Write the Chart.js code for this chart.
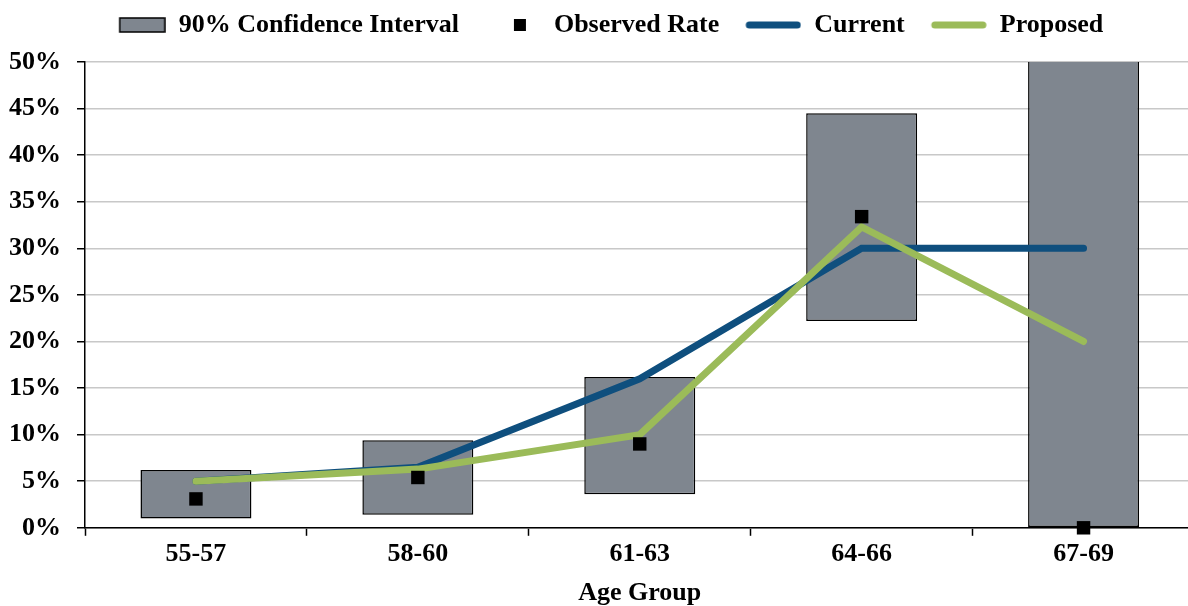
<!DOCTYPE html>
<html>
<head>
<meta charset="utf-8">
<script src="https://cdn.jsdelivr.net/npm/chart.js@4/dist/chart.umd.min.js"></script>
<style>
  html, body { margin: 0; padding: 0; background: #fff; overflow: hidden; }
  /* a área do gráfico passa um pouco da borda direita, como no original */
  #wrap { width: 1221px; height: 606px; margin-left: -17px; }
</style>
</head>
<body>
<div id="wrap"><canvas id="chart"></canvas></div>
<script>
// dados
const ageGroups = ['55-57', '58-60', '61-63', '64-66', '67-69'];
const ciLow = [1.0, 1.4, 3.6, 22.2, 0.0];
const ciHigh = [6.2, 9.4, 16.2, 44.5, 50.3];
const observedRate = [3.1, 5.4, 9.0, 33.4, 0.0];
const currentRate = [5.0, 6.5, 16.0, 30.0, 30.0];
const proposedRate = [5.0, 6.3, 10.0, 32.3, 20.0];
const yTicks = [0, 5, 10, 15, 20, 25, 30, 35, 40, 45, 50];

const barGray = '#7f868f';
const blue = '#0f4f7e';
const green = '#9bbb59';
const fontFamily = '"Liberation Serif", "Times New Roman", serif';

// marcadores da legenda desenhados em canvas pequenos
function marker(draw) {
    const c = document.createElement('canvas');
    c.width = 72;
    c.height = 22;
    draw(c.getContext('2d'));
    return c;
}
const ciMark = marker(ctx => {
    ctx.fillStyle = barGray;
    ctx.fillRect(26, 4, 45, 14);
    ctx.strokeStyle = '#000';
    ctx.lineWidth = 1.5;
    ctx.strokeRect(26, 4, 45, 14);
});
const obsMark = marker(ctx => {
    ctx.fillStyle = '#000';
    ctx.fillRect(45, 5, 12, 12);
});
function lineMark(color) {
    return marker(ctx => {
        ctx.strokeStyle = color;
        ctx.lineWidth = 7;
        ctx.lineCap = 'round';
        ctx.beginPath();
        ctx.moveTo(20, 11);
        ctx.lineTo(68, 11);
        ctx.stroke();
    });
}
const curMark = lineMark(blue);
const propMark = lineMark(green);

const data = {
    labels: ageGroups,
    datasets: [
        {
            type: 'bar',
            label: '90% Confidence Interval',
            data: ageGroups.map((g, i) => [ciLow[i], ciHigh[i]]),
            backgroundColor: barGray,
            borderColor: '#000',
            borderWidth: 1.5,
            borderSkipped: false,
            barPercentage: 0.5,
            categoryPercentage: 1.0,
            order: 4
        },
        {
            type: 'line',
            label: 'Current',
            data: currentRate,
            borderColor: blue,
            borderWidth: 7,
            borderCapStyle: 'round',
            pointRadius: 0,
            tension: 0,
            order: 3
        },
        {
            type: 'line',
            label: 'Proposed',
            data: proposedRate,
            borderColor: green,
            borderWidth: 7,
            borderCapStyle: 'round',
            pointRadius: 0,
            tension: 0,
            order: 2
        },
        {
            type: 'line',
            label: 'Observed Rate',
            data: observedRate,
            showLine: false,
            pointStyle: 'rect',
            pointRadius: 9.5,
            pointBackgroundColor: '#000',
            pointBorderWidth: 0,
            clip: false,
            order: 1
        }
    ]
};

const config = {
    type: 'bar',
    data: data,
    options: {
        responsive: true,
        maintainAspectRatio: false,
        animation: false,
        layout: { padding: { left: 10, right: 0, top: 2, bottom: 0 } },
        plugins: {
            tooltip: { enabled: false },
            // espaço vazio entre a legenda e a área do gráfico
            subtitle: {
                display: true,
                text: '',
                position: 'top',
                weight: 500,
                padding: { top: 4, bottom: 0 },
                font: { size: 10, lineHeight: 1 }
            },
            legend: {
                position: 'top',
                labels: {
                    usePointStyle: true,
                    pointStyleWidth: 72,
                    padding: 10,
                    color: '#000',
                    font: { family: fontFamily, size: 26, weight: 'bold' },
                    generateLabels: () => [
                        { text: '90% Confidence Interval', pointStyle: ciMark, datasetIndex: 0 },
                        { text: 'Observed Rate', pointStyle: obsMark, datasetIndex: 3 },
                        { text: 'Current', pointStyle: curMark, datasetIndex: 1 },
                        { text: 'Proposed', pointStyle: propMark, datasetIndex: 2 }
                    ].map(l => Object.assign(l, { fillStyle: '#000', strokeStyle: '#000', lineWidth: 0, hidden: false, fontColor: '#000' }))
                }
            }
        },
        scales: {
            x: {
                offset: true,
                grid: {
                    offset: true,
                    drawOnChartArea: false,
                    tickColor: '#000',
                    tickLength: 8,
                    tickWidth: 1.5
                },
                border: { color: '#000', width: 1.5 },
                ticks: {
                    color: '#000',
                    padding: 3,
                    font: { family: fontFamily, size: 26, weight: 'bold' }
                },
                title: {
                    display: true,
                    text: 'Age Group',
                    color: '#000',
                    padding: { top: 7, bottom: 0 },
                    font: { family: fontFamily, size: 26, weight: 'bold', lineHeight: 1 }
                }
            },
            y: {
                min: 0,
                max: 50,
                afterBuildTicks: axis => { axis.ticks = yTicks.map(v => ({ value: v })); },
                grid: {
                    color: '#c8c8c8',
                    lineWidth: 1.5,
                    tickColor: '#000',
                    tickLength: 8,
                    tickWidth: 1.5
                },
                border: { color: '#000', width: 1.5 },
                ticks: {
                    color: '#000',
                    padding: 16,
                    font: { family: fontFamily, size: 26, weight: 'bold' },
                    callback: v => v + '%'
                }
            }
        }
    }
};

new Chart(document.getElementById('chart'), config);
</script>
</body>
</html>
